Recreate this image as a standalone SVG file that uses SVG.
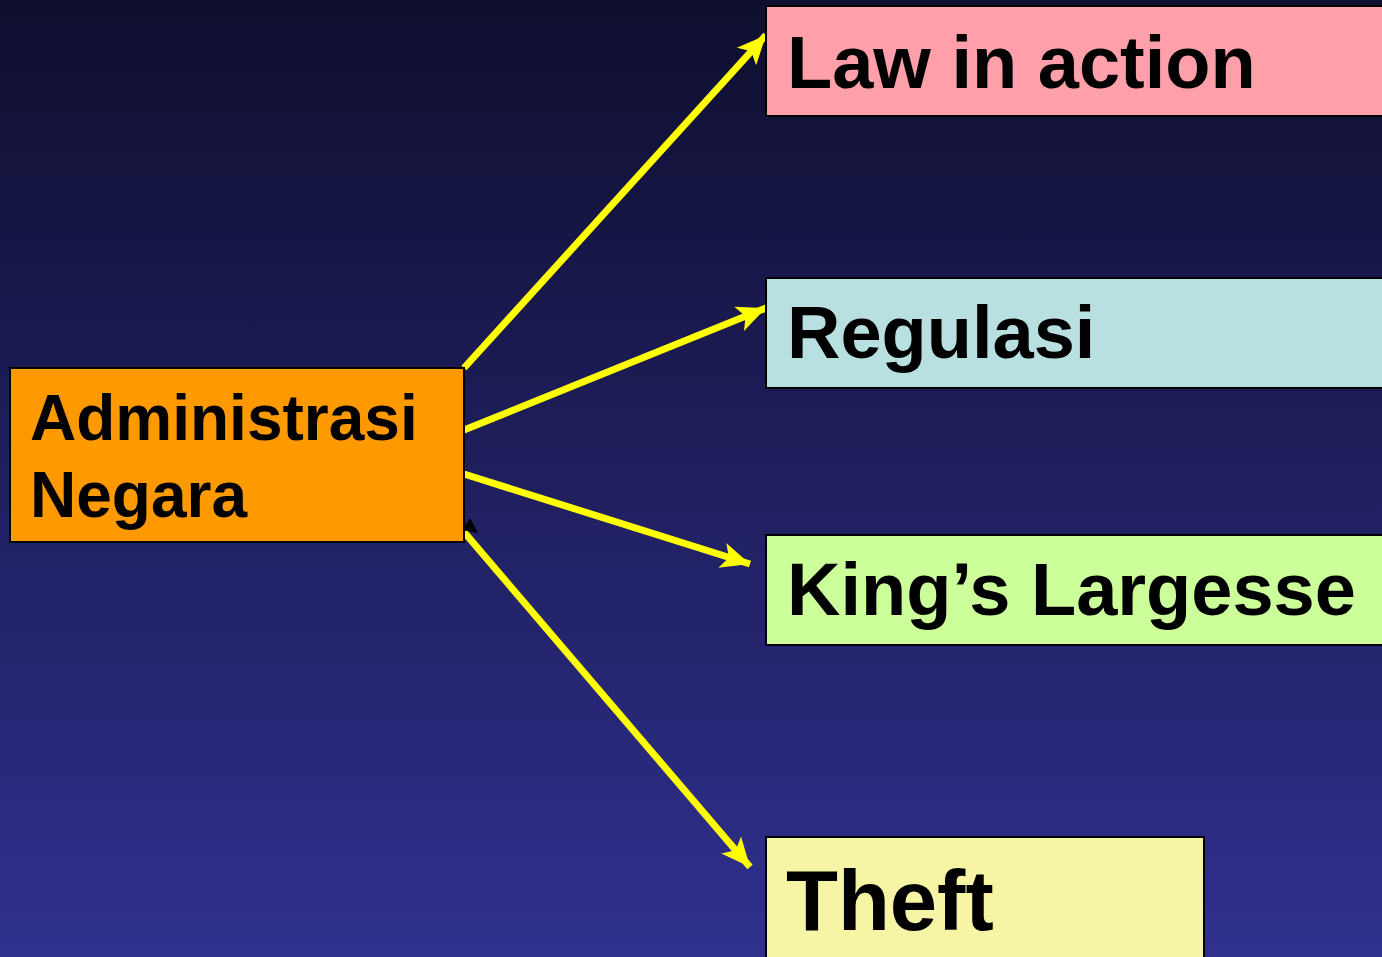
<svg xmlns="http://www.w3.org/2000/svg" width="1382" height="957" viewBox="0 0 1382 957">
<defs>
<linearGradient id="bg" x1="0" y1="0" x2="0" y2="1">
<stop offset="0" stop-color="#0e0e2e"/>
<stop offset="1" stop-color="#30308f"/>
</linearGradient>
<marker id="ah" markerUnits="userSpaceOnUse" markerWidth="32" markerHeight="32" refX="29" refY="15" orient="auto">
<path d="M0,2 L29,15 L0,28 L7,15 Z" fill="#ffff00"/>
</marker>
<style>
.box{stroke:#000;stroke-width:2}
.t{font-family:"Liberation Sans",Arial,sans-serif;font-weight:bold;fill:#000}
.c{stroke:#ffff00;stroke-width:7;fill:none;marker-end:url(#ah)}
</style>
</defs>
<rect width="1382" height="957" fill="url(#bg)"/>
<g id="connectors">
<line class="c" x1="464" y1="368" x2="766" y2="35"/>
<line class="c" x1="464" y1="430" x2="766" y2="308"/>
<line class="c" x1="464" y1="474" x2="750" y2="564"/>
<line class="c" x1="464" y1="532" x2="750" y2="867"/>
<polygon points="462,530 470,518 478,533" fill="#000"/>
</g>
<g id="node-admin">
<rect class="box" x="10" y="368" width="454" height="174" fill="#ff9900"/>
<text class="t" x="30" y="440" font-size="64">Administrasi</text>
<text class="t" x="30" y="517" font-size="64">Negara</text>
</g>
<g id="node-law">
<rect class="box" x="766" y="6" width="630" height="110" fill="#ff9faa"/>
<text class="t" x="787" y="88" font-size="74">Law in action</text>
</g>
<g id="node-regulasi">
<rect class="box" x="766" y="278" width="630" height="110" fill="#b8e0e0"/>
<text class="t" x="787" y="358" font-size="74">Regulasi</text>
</g>
<g id="node-king">
<rect class="box" x="766" y="535" width="630" height="110" fill="#ccff99"/>
<text class="t" x="787" y="615" font-size="74">King’s Largesse</text>
</g>
<g id="node-theft">
<rect class="box" x="766" y="837" width="438" height="140" fill="#f5f5a5"/>
<text class="t" x="786" y="930" font-size="85">Theft</text>
</g>
</svg>
